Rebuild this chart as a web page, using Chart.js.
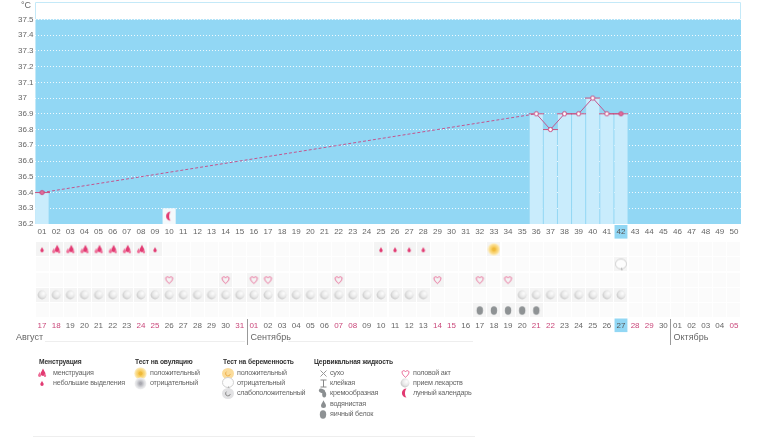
<!DOCTYPE html>
<html lang="ru"><head><meta charset="utf-8">
<script src="https://cdn.jsdelivr.net/npm/chart.js@4"></script>
<style>
html,body{margin:0;padding:0;background:#fff;width:770px;height:437px;overflow:hidden}
#wrap{position:relative;width:770px;height:437px;overflow:hidden;font-family:"Liberation Sans",sans-serif;filter:blur(.35px)}
canvas{position:absolute;display:block}
.t{position:absolute;white-space:nowrap;font-size:7.2px;letter-spacing:-.24px;line-height:10px;color:#666}
.h{color:#333;font-weight:bold;font-size:6.7px;letter-spacing:-.12px}
#unit{left:21px;top:0;font-size:9px;letter-spacing:0}
#rule{position:absolute;left:33px;top:436px;width:442px;height:1px;background:#eee}
</style></head><body>
<div id="wrap">
<canvas id="tempChart" width="770" height="243" style="left:0;top:-3px"></canvas>
<canvas id="rowChart" width="770" height="105" style="left:0;top:240px"></canvas>
<div class="t" id="unit">°C</div>
<div id="rule"></div>
</div>
<script>
const cycleDays=['01','02','03','04','05','06','07','08','09','10','11','12','13','14','15','16','17','18','19','20','21','22','23','24','25','26','27','28','29','30','31','32','33','34','35','36','37','38','39','40','41','42','43','44','45','46','47','48','49','50'];
const calendarDates=['17','18','19','20','21','22','23','24','25','26','27','28','29','30','31','01','02','03','04','05','06','07','08','09','10','11','12','13','14','15','16','17','18','19','20','21','22','23','24','25','26','27','28','29','30','01','02','03','04','05'];
const temperatures=[36.4,null,null,null,null,null,null,null,null,null,null,null,null,null,null,null,null,null,null,null,null,null,null,null,null,null,null,null,null,null,null,null,null,null,null,36.9,36.8,36.9,36.9,37,36.9,36.9,null,null,null,null,null,null,null,null];
const lunarBar=[null,null,null,null,null,null,null,null,null,36.3,null,null,null,null,null,null,null,null,null,null,null,null,null,null,null,null,null,null,null,null,null,null,null,null,null,null,null,null,null,null,null,null,null,null,null,null,null,null,null,null];
const redDateIndexes=[0,1,7,8,14,15,21,22,28,29,35,36,42,43,49];
const todayIndex=41;
const yMin=36.2, yBand=37.5, yMax=37.61;
const rowNames=['Менструация','Тест','Половой акт','Лекарство','Жидкость'];
const lightFlowDays=[1,9,25,26,27,28];
const heavyFlowDays=[2,3,4,5,6,7,8];
const ovulationPositiveDays=[33];
const pregnancyNegativeDays=[42];
const intercourseDays=[10,14,16,17,22,29,32,34];
const pillDays=[1,2,3,4,5,6,7,8,9,10,11,12,13,14,15,16,17,18,19,20,21,22,23,24,25,26,27,28,35,36,37,38,39,40,41,42];
const eggWhiteDays=[32,33,34,35,36];
const monthBreaks=[{name:'Август',index:0},{name:'Сентябрь',index:15},{name:'Октябрь',index:45}];

const PINK='#e23a72', BLUE='#92d7f4', LIGHT='#c9ecfc', TXT='#666';
function icon(w,h,fn){const c=document.createElement('canvas');c.width=w;c.height=h;const g=c.getContext('2d');fn(g,w/2,h/2);return c}
function drop(g,x,y,r,col){g.fillStyle=col;g.beginPath();g.moveTo(x,y-r*1.9);g.bezierCurveTo(x+r*.4,y-r*.9,x+r,y-r*.4,x+r,y+.2*r);g.arc(x,y+.2*r,r,0,Math.PI);g.bezierCurveTo(x-r,y-r*.4,x-r*.4,y-r*.9,x,y-r*1.9);g.fill()}
const ic={
 light:()=>icon(10,10,(g,x,y)=>drop(g,x,y+1,1.7,PINK)),
 heavy:()=>icon(12,12,(g,x,y)=>{drop(g,x+1,y,2.4,PINK);drop(g,x-2.4,y+2,1.6,'#ee6d97');drop(g,x+3,y+2.5,1.2,'#ee6d97')}),
 sun:()=>icon(13,13,(g,x,y)=>{let r=g.createRadialGradient(x,y,1,x,y,6.3);r.addColorStop(0,'#f5c242');r.addColorStop(.55,'#f9d77e');r.addColorStop(1,'#fdf2d0');g.fillStyle=r;g.beginPath();g.arc(x,y,6.3,0,7);g.fill();g.fillStyle='#efb93a';g.beginPath();g.arc(x,y,2,0,7);g.fill()}),
 ovuNeg:()=>icon(13,13,(g,x,y)=>{let r=g.createRadialGradient(x,y,1,x,y,6);r.addColorStop(0,'#a9a9b0');r.addColorStop(.6,'#dcdde0');r.addColorStop(1,'#f3f3f4');g.fillStyle=r;g.beginPath();g.arc(x,y,6,0,7);g.fill()}),
 pregPos:()=>icon(14,13,(g,x,y)=>{g.fillStyle='#fbdc9b';g.beginPath();g.ellipse(x,y,6,5.5,0,0,7);g.fill();g.strokeStyle='#eeb04c';g.beginPath();g.arc(x,y,2.4,.2,4);g.stroke()}),
 pregNeg:()=>icon(14,14,(g,x,y)=>{g.fillStyle='#fdfdfd';g.strokeStyle='#cfcfcf';g.beginPath();g.ellipse(x,y-.5,5.5,5,0,0,7);g.fill();g.stroke();g.strokeStyle='#aaa';g.beginPath();g.moveTo(x+.5,y+3.5);g.lineTo(x+1,y+5.8);g.stroke()}),
 pregWeak:()=>icon(14,13,(g,x,y)=>{g.fillStyle='#e2e2e4';g.beginPath();g.ellipse(x,y,6,5.5,0,0,7);g.fill();g.strokeStyle='#888';g.beginPath();g.arc(x,y,2.4,.2,4);g.stroke()}),
 heart:()=>icon(11,11,(g,x,y)=>{g.strokeStyle='#e6608f';g.lineWidth=1;g.beginPath();g.moveTo(x,y+3.8);g.bezierCurveTo(x-5.5,y-.5,x-3.5,y-4.5,x,y-2);g.bezierCurveTo(x+3.5,y-4.5,x+5.5,y-.5,x,y+3.8);g.stroke()}),
 pill:()=>icon(12,12,(g,x,y)=>{let r=g.createRadialGradient(x+1.6,y-1.6,.5,x+.5,y-.5,5);r.addColorStop(0,'#fbfbfb');r.addColorStop(.6,'#e8e8e8');r.addColorStop(1,'#c6c6c6');g.fillStyle=r;g.beginPath();g.arc(x,y,4.4,0,7);g.fill()}),
 egg:()=>icon(10,12,(g,x,y)=>{g.fillStyle='#8e9294';g.beginPath();g.ellipse(x,y+.5,3.2,4.2,0,0,7);g.fill()}),
 moon:()=>icon(10,12,(g,x,y)=>{g.fillStyle=PINK;g.beginPath();g.arc(x+1.5,y,4.6,Math.PI*.5,Math.PI*1.5);g.bezierCurveTo(x-.5,y-2.5,x-.5,y+2.5,x+1.5,y+4.6);g.fill()}),
 dry:()=>icon(9,9,(g,x,y)=>{g.strokeStyle='#999';g.beginPath();g.moveTo(x-3,y-3);g.lineTo(x+3,y+3);g.moveTo(x+3,y-3);g.lineTo(x-3,y+3);g.stroke()}),
 sticky:()=>icon(9,9,(g,x,y)=>{g.strokeStyle='#888';g.beginPath();g.moveTo(x-3,y-3.5);g.lineTo(x+3,y-3.5);g.moveTo(x,y-3.5);g.lineTo(x,y+3.5);g.moveTo(x-3,y+3.5);g.lineTo(x+3,y+3.5);g.stroke()}),
 creamy:()=>icon(10,10,(g,x,y)=>{g.fillStyle='#8b8f91';g.beginPath();g.ellipse(x-1,y-2,3.2,2.2,.3,0,7);g.fill();g.beginPath();g.ellipse(x+1.2,y+1.5,2,3,0,0,7);g.fill()}),
 watery:()=>icon(9,10,(g,x,y)=>drop(g,x,y+1,2.5,'#8b8f91')),
 marker:(filled)=>icon(15,7,(g,x,y)=>{g.fillStyle='#c8507f';g.fillRect(0,3,15,1);g.fillStyle=filled?'#e0709c':'#fff';g.strokeStyle='#c8457e';g.beginPath();g.arc(x,y,2.1,0,7);g.fill();g.stroke()}),
 cell:(c)=>icon(13,14,(g)=>{g.fillStyle=c;g.fillRect(0,0,13,14)})
};

const bandPlugin={id:'band',beforeDraw(c){const a=c.chartArea,y=c.scales.y,g=c.ctx,t=y.getPixelForValue(yBand);g.save();g.fillStyle=BLUE;g.fillRect(a.left,t,a.right-a.left,a.bottom-t);g.strokeStyle='#c4e9f8';g.lineWidth=1;g.beginPath();g.moveTo(a.left+.5,a.bottom);g.lineTo(a.left+.5,a.top+.5);g.lineTo(a.right-.5,a.top+.5);g.lineTo(a.right-.5,t);g.stroke();g.restore()}};

const font={family:'"Liberation Sans",sans-serif',size:8};
const markers=temperatures.map((v,i)=>(i===0||i===todayIndex)?ic.marker(true):ic.marker(false));
new Chart(document.getElementById('tempChart'),{
 type:'bar',
 plugins:[bandPlugin],
 data:{labels:cycleDays,datasets:[
  {type:'line',order:0,data:temperatures,spanGaps:true,borderColor:'#c2568f',borderWidth:1,tension:0,pointStyle:markers,pointRadius:3,
   segment:{borderDash:c=>(c.p0.skip||c.p1.skip)?[3,2]:undefined}},
  {type:'line',order:0,data:lunarBar.map(v=>v===null?null:yMin+(v-yMin)/2),showLine:false,pointStyle:ic.moon(),pointRadius:4},
  {type:'bar',order:1,data:temperatures,backgroundColor:LIGHT,grouped:false,barPercentage:.93,categoryPercentage:1},
  {type:'bar',order:1,data:lunarBar,backgroundColor:'#f4f9fc',grouped:false,barPercentage:.93,categoryPercentage:1}
 ]},
 options:{responsive:false,animation:false,devicePixelRatio:1,
  layout:{padding:{left:18,right:29,top:0,bottom:0}},
  plugins:{legend:{display:false},tooltip:{enabled:false}},
  scales:{
   x:{grid:{display:false,drawTicks:false},border:{display:false},
      afterFit:s=>{s.height=16},
      ticks:{autoSkip:false,maxRotation:0,padding:3,font,color:c=>c.index===todayIndex?'#555':TXT,
        showLabelBackdrop:c=>c.index===todayIndex,backdropColor:BLUE,backdropPadding:{x:2,y:2}}},
   y:{min:yMin,max:yMax,grid:{color:'rgba(255,255,255,.85)',drawTicks:false},border:{display:false,dash:[1,2]},
      afterBuildTicks:s=>{s.ticks=s.ticks.filter(t=>t.value<=yBand+.001)},
      afterFit:s=>{s.width=17;s.paddingTop=0;s.paddingBottom=0},
      ticks:{stepSize:.1,crossAlign:'far',font,color:TXT,callback:v=>String(Number(v.toFixed(1)))}}
  }}
});

const mk=(days,row)=>days.map(d=>({x:d-1,y:row}));
const allCells=[];rowNames.forEach((_,r)=>cycleDays.forEach((_,i)=>allCells.push({x:i,y:r})));
const pt=(data,style,order)=>({data,showLine:false,pointStyle:style,pointRadius:4,order,clip:false});
const filled=[...mk(lightFlowDays,0),...mk(heavyFlowDays,0),...mk(ovulationPositiveDays,0),...mk(pregnancyNegativeDays,1),...mk(intercourseDays,2),...mk(pillDays,3),...mk(eggWhiteDays,4)];
const monthPlugin={id:'months',afterDraw(c){const g=c.ctx,x=c.scales.x,band=(x.getPixelForValue(1)-x.getPixelForValue(0));g.save();g.font='9px "Liberation Sans",sans-serif';g.textBaseline='middle';
 monthBreaks.forEach(m=>{
  if(m.index===0){g.fillStyle=TXT;g.fillText(m.name,16,97.5);return}
  const sx=Math.round(x.getPixelForValue(m.index)-band/2)+.5;
  g.strokeStyle='#999';g.lineWidth=1;g.beginPath();g.moveTo(sx,79);g.lineTo(sx,105);g.stroke();
  g.fillStyle=TXT;g.fillText(m.name,sx+3,97.5);
 });
 g.strokeStyle='#eee';g.beginPath();g.moveTo(45,101.5);g.lineTo(245,101.5);g.moveTo(288,101.5);g.lineTo(473,101.5);g.stroke();
 g.restore()}};
new Chart(document.getElementById('rowChart'),{
 type:'line',plugins:[monthPlugin],
 data:{datasets:[
  pt(mk(lightFlowDays,0),ic.light(),0),pt(mk(heavyFlowDays,0),ic.heavy(),0),pt(mk(ovulationPositiveDays,0),ic.sun(),0),
  pt(mk(pregnancyNegativeDays,1),ic.pregNeg(),0),pt(mk(intercourseDays,2),ic.heart(),0),
  pt(mk(pillDays,3),ic.pill(),0),pt(mk(eggWhiteDays,4),ic.egg(),0),
  pt(filled,ic.cell('#f4f4f4'),1),pt(allCells,ic.cell('#fbfbfb'),2)
 ]},
 options:{responsive:false,animation:false,devicePixelRatio:1,
  layout:{padding:{left:35,right:29,top:1.5,bottom:0}},
  plugins:{legend:{display:false},tooltip:{enabled:false}},
  scales:{
   x:{type:'linear',min:-.5,max:49.5,grid:{display:false,drawTicks:false},border:{display:false},
      afterBuildTicks:s=>{s.ticks=calendarDates.map((_,i)=>({value:i}))},
      afterFit:s=>{s.height=27;s.paddingLeft=0;s.paddingRight=0},
      ticks:{autoSkip:false,maxRotation:0,padding:2.5,font,callback:v=>calendarDates[v],
        color:c=>c.index===todayIndex?'#555':(redDateIndexes.includes(c.index)?'#c9477a':TXT),
        showLabelBackdrop:c=>c.index===todayIndex,backdropColor:BLUE,backdropPadding:{x:2,y:2}}},
   y:{type:'linear',min:-.282,max:4.525,reverse:true,display:false}
  }}
});

const legendHeads=[['Менструация',39],['Тест на овуляцию',135],['Тест на беременность',223],['Цервикальная жидкость',314]];
const legendItems=[
 ['менструация',53,373,'heavy',42],['небольшие выделения',53,383,'light',42],
 ['положительный',150,373,'sun',140],['отрицательный',150,383,'ovuNeg',140],
 ['положительный',237,373,'pregPos',228],['отрицательный',237,383,'pregNeg',228],['слабоположительный',237,393,'pregWeak',228],
 ['сухо',330,373,'dry',323],['клейкая',330,383,'sticky',323],['кремообразная',330,393,'creamy',323],['водянистая',330,404,'watery',323],['яичный белок',330,414,'egg',323],
 ['половой акт',413,373,'heart',405],['прием лекарств',413,383,'pill',405],['лунный календарь',413,393,'moon',405]];
const wrap=document.getElementById('wrap');
legendHeads.forEach(([s,x])=>{const e=document.createElement('div');e.className='t h';e.textContent=s;e.style.left=x+'px';e.style.top='357px';wrap.appendChild(e)});
legendItems.forEach(([s,x,y,k,ix])=>{const e=document.createElement('div');e.className='t';e.textContent=s;e.style.left=x+'px';e.style.top=(y-5)+'px';wrap.appendChild(e);
 const c=ic[k]();c.style.left=(ix-c.width/2)+'px';c.style.top=(y-c.height/2)+'px';wrap.appendChild(c)});
</script>
</body></html>
